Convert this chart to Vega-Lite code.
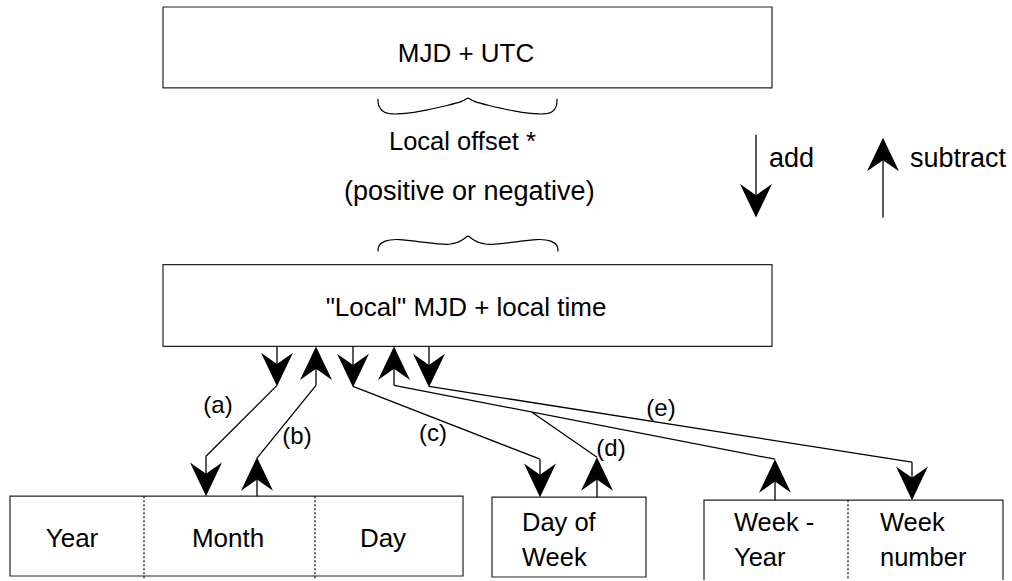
{
  "$schema": "https://vega.github.io/schema/vega-lite/v6.json",
  "width": 1012,
  "height": 581,
  "padding": 0,
  "autosize": {"type": "fit", "contains": "padding"},
  "background": "white",
  "config": {"view": {"stroke": null}, "text": {"font": "Liberation Sans", "color": "black"}},
  "datasets": {
    "boxes": [
      {"name": "MJD + UTC", "x": 163, "y": 7, "x2": 772, "y2": 88},
      {"name": "Local MJD", "x": 163, "y": 265, "x2": 772, "y2": 347},
      {"name": "Year Month Day", "x": 10, "y": 497, "x2": 463, "y2": 577},
      {"name": "Day of Week", "x": 492, "y": 498, "x2": 646, "y2": 578},
      {"name": "Week-Year Week number", "x": 704, "y": 501, "x2": 1003, "y2": 586}
    ],
    "dividers": [
      {"x": 144, "y": 497, "y2": 580},
      {"x": 315, "y": 497, "y2": 580},
      {"x": 848, "y": 501, "y2": 581}
    ],
    "segments": [
      {"path": "add", "x": 756, "y": 135, "x2": 756, "y2": 214},
      {"path": "subtract", "x": 883, "y": 218, "x2": 883, "y2": 142},
      {"path": "a", "x": 277, "y": 347, "x2": 277, "y2": 384},
      {"path": "a", "x": 277, "y": 386, "x2": 206, "y2": 457},
      {"path": "a", "x": 206, "y": 457, "x2": 206, "y2": 494},
      {"path": "b", "x": 257, "y": 497, "x2": 257, "y2": 462},
      {"path": "b", "x": 257, "y": 459, "x2": 316, "y2": 386},
      {"path": "b", "x": 316, "y": 386, "x2": 316, "y2": 350},
      {"path": "c", "x": 353, "y": 347, "x2": 353, "y2": 385},
      {"path": "c", "x": 353, "y": 387, "x2": 540, "y2": 460},
      {"path": "c", "x": 540, "y": 460, "x2": 540, "y2": 495},
      {"path": "d", "x": 394, "y": 350, "x2": 394, "y2": 386},
      {"path": "d", "x": 394, "y": 386, "x2": 775, "y2": 460},
      {"path": "d", "x": 775, "y": 464, "x2": 775, "y2": 501},
      {"path": "d", "x": 532, "y": 413, "x2": 597, "y2": 458},
      {"path": "d", "x": 597, "y": 462, "x2": 597, "y2": 498},
      {"path": "e", "x": 429, "y": 347, "x2": 429, "y2": 385},
      {"path": "e", "x": 429, "y": 387, "x2": 912, "y2": 463},
      {"path": "e", "x": 912, "y": 463, "x2": 912, "y2": 498}
    ],
    "downHeads": [
      {"path": "add", "x": 756, "y": 218},
      {"path": "a", "x": 277, "y": 387},
      {"path": "a", "x": 206, "y": 497},
      {"path": "c", "x": 353, "y": 388},
      {"path": "c", "x": 540, "y": 498},
      {"path": "e", "x": 429, "y": 388},
      {"path": "e", "x": 912, "y": 501}
    ],
    "upHeads": [
      {"path": "subtract", "x": 883, "y": 138},
      {"path": "b", "x": 316, "y": 347},
      {"path": "b", "x": 257, "y": 458},
      {"path": "d", "x": 394, "y": 347},
      {"path": "d", "x": 597, "y": 458},
      {"path": "d", "x": 775, "y": 460}
    ],
    "braces": [
      {"brace": "upper", "i": 1, "x": 378, "y": 99},
      {"brace": "upper", "i": 2, "x": 378, "y": 106},
      {"brace": "upper", "i": 3, "x": 383, "y": 113},
      {"brace": "upper", "i": 4, "x": 395, "y": 115},
      {"brace": "upper", "i": 5, "x": 420, "y": 112},
      {"brace": "upper", "i": 6, "x": 450, "y": 105},
      {"brace": "upper", "i": 7, "x": 462, "y": 102},
      {"brace": "upper", "i": 8, "x": 468, "y": 98},
      {"brace": "upper", "i": 9, "x": 468, "y": 98},
      {"brace": "upper", "i": 10, "x": 474, "y": 102},
      {"brace": "upper", "i": 11, "x": 486, "y": 105},
      {"brace": "upper", "i": 12, "x": 516, "y": 112},
      {"brace": "upper", "i": 13, "x": 541, "y": 115},
      {"brace": "upper", "i": 14, "x": 553, "y": 113},
      {"brace": "upper", "i": 15, "x": 557, "y": 106},
      {"brace": "upper", "i": 16, "x": 557, "y": 99},
      {"brace": "lower", "i": 1, "x": 378, "y": 252},
      {"brace": "lower", "i": 2, "x": 378, "y": 246},
      {"brace": "lower", "i": 3, "x": 384, "y": 241},
      {"brace": "lower", "i": 4, "x": 397, "y": 239},
      {"brace": "lower", "i": 5, "x": 425, "y": 243},
      {"brace": "lower", "i": 6, "x": 452, "y": 246},
      {"brace": "lower", "i": 7, "x": 462, "y": 241},
      {"brace": "lower", "i": 8, "x": 468, "y": 236},
      {"brace": "lower", "i": 9, "x": 468, "y": 236},
      {"brace": "lower", "i": 10, "x": 474, "y": 241},
      {"brace": "lower", "i": 11, "x": 484, "y": 246},
      {"brace": "lower", "i": 12, "x": 511, "y": 243},
      {"brace": "lower", "i": 13, "x": 539, "y": 239},
      {"brace": "lower", "i": 14, "x": 552, "y": 241},
      {"brace": "lower", "i": 15, "x": 558, "y": 246},
      {"brace": "lower", "i": 16, "x": 558, "y": 252}
    ],
    "centerText": [
      {"label": "MJD + UTC", "x": 466, "y": 62},
      {"label": "\"Local\" MJD + local time", "x": 466, "y": 317},
      {"label": "Year", "x": 72, "y": 548},
      {"label": "Month", "x": 228, "y": 548},
      {"label": "Day", "x": 383, "y": 548}
    ],
    "bigLeftText": [
      {"label": "(positive or negative)", "x": 344, "y": 200},
      {"label": "add", "x": 769, "y": 167},
      {"label": "subtract", "x": 910, "y": 167}
    ],
    "leftText": [
      {"label": "Local offset *", "x": 389, "y": 150},
      {"label": "Day of", "x": 522, "y": 532},
      {"label": "Week", "x": 522, "y": 567},
      {"label": "Week -", "x": 734, "y": 532},
      {"label": "Year", "x": 734, "y": 567},
      {"label": "Week", "x": 880, "y": 532},
      {"label": "number", "x": 880, "y": 567}
    ],
    "pathLabels": [
      {"label": "(a)", "x": 218, "y": 407},
      {"label": "(b)", "x": 297, "y": 438},
      {"label": "(c)", "x": 433, "y": 435},
      {"label": "(d)", "x": 611, "y": 450},
      {"label": "(e)", "x": 661, "y": 410}
    ]
  },
  "encoding": {
    "x": {"field": "x", "type": "quantitative", "scale": {"domain": [0, 1012], "nice": false, "zero": false}, "axis": null},
    "y": {"field": "y", "type": "quantitative", "scale": {"domain": [0, 581], "nice": false, "zero": false, "reverse": true}, "axis": null}
  },
  "layer": [
    {
      "data": {"name": "boxes"},
      "mark": {"type": "rect", "fill": "white", "stroke": "#222222", "strokeWidth": 1.2, "clip": true},
      "encoding": {"x2": {"field": "x2"}, "y2": {"field": "y2"}}
    },
    {
      "data": {"name": "dividers"},
      "mark": {"type": "rule", "color": "black", "strokeWidth": 1.2, "strokeDash": [2, 2]},
      "encoding": {"y2": {"field": "y2"}}
    },
    {
      "data": {"name": "segments"},
      "mark": {"type": "rule", "color": "black", "strokeWidth": 1.3},
      "encoding": {"x2": {"field": "x2"}, "y2": {"field": "y2"}}
    },
    {
      "data": {"name": "braces"},
      "mark": {"type": "line", "interpolate": "basis", "color": "black", "strokeWidth": 1.2},
      "encoding": {"detail": {"field": "brace"}, "order": {"field": "i", "type": "quantitative"}}
    },
    {
      "data": {"name": "downHeads"},
      "mark": {"type": "point", "shape": "M0,0 L-1,-2.1 L0,-1.4 L1,-2.1 Z", "filled": true, "color": "black", "opacity": 1, "size": 1024, "strokeWidth": 0}
    },
    {
      "data": {"name": "upHeads"},
      "mark": {"type": "point", "shape": "M0,0 L1,2.1 L0,1.4 L-1,2.1 Z", "filled": true, "color": "black", "opacity": 1, "size": 1024, "strokeWidth": 0}
    },
    {
      "data": {"name": "centerText"},
      "mark": {"type": "text", "align": "center", "baseline": "alphabetic", "fontSize": 26},
      "encoding": {"text": {"field": "label"}}
    },
    {
      "data": {"name": "bigLeftText"},
      "mark": {"type": "text", "align": "left", "baseline": "alphabetic", "fontSize": 27},
      "encoding": {"text": {"field": "label"}}
    },
    {
      "data": {"name": "leftText"},
      "mark": {"type": "text", "align": "left", "baseline": "alphabetic", "fontSize": 25.5},
      "encoding": {"text": {"field": "label"}}
    },
    {
      "data": {"name": "pathLabels"},
      "mark": {"type": "text", "align": "center", "baseline": "middle", "fontSize": 24},
      "encoding": {"text": {"field": "label"}}
    }
  ]
}
